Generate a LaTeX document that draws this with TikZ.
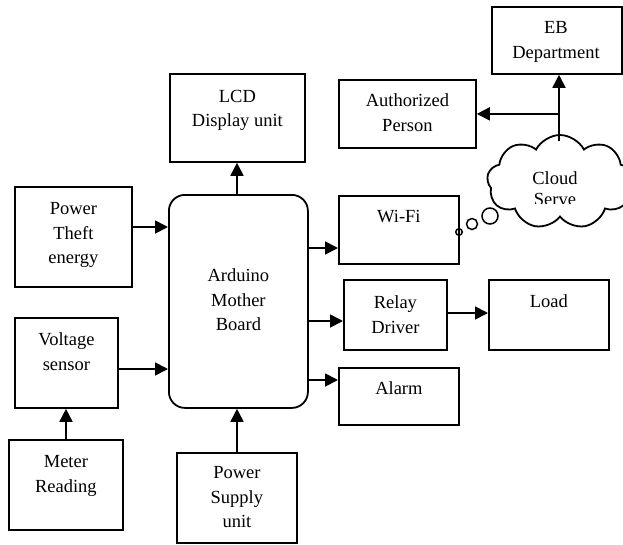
\documentclass[tikz,border=0pt]{standalone}
\usepackage{fontspec}
\setmainfont{Liberation Serif}
\usetikzlibrary{arrows.meta,shapes.symbols}
\begin{document}
\begin{tikzpicture}[x=1pt,y=-1pt,
  box/.style={draw,line width=1.8pt,inner sep=0pt,anchor=north west},
  txt/.style={align=center,anchor=north,inner sep=0pt,font=\fontsize{18.5}{24.5}\selectfont},
  arr/.style={line width=1.8pt,-{Triangle[length=13pt,width=13pt]}},
  bub/.style={draw,circle,line width=1.5pt,inner sep=0pt}]
\useasboundingbox (0,0) rectangle (623,544);
% boxes
\node[box,minimum width=130,minimum height=67] (eb) at (491,6) {};
\node[box,minimum width=137,minimum height=68] (auth) at (338,79) {};
\node[box,minimum width=135,minimum height=88] (lcd) at (169,73) {};
\node[box,minimum width=120,minimum height=68] (wifi) at (338,195) {};
\node[box,minimum width=117,minimum height=100] (pt) at (14,186) {};
\node[box,rounded corners=16pt,minimum width=139,minimum height=213] (ard) at (168,194) {};
\node[box,minimum width=103,minimum height=70] (relay) at (343,279) {};
\node[box,minimum width=120,minimum height=70] (load) at (488,279) {};
\node[box,minimum width=120,minimum height=57] (alarm) at (338,367) {};
\node[box,minimum width=103,minimum height=90] (volt) at (14,317) {};
\node[box,minimum width=114,minimum height=90] (meter) at (8,439) {};
\node[box,minimum width=120,minimum height=90] (ps) at (176,452) {};
% cloud
\node[cloud,draw,line width=1.8pt,cloud puffs=9,cloud puff arc=125,aspect=1.55,
  minimum width=146,minimum height=94,inner sep=0pt] (cloud) at (560,182) {};
\node[bub,minimum size=6.5] (b1) at (459,232) {};
\node[bub,minimum size=11] (b2) at (472,224) {};
\node[bub,minimum size=16] (b3) at (490,216) {};
% texts
\node[txt] (teb) at (556,34-12.4) {EB\\Department};
\node[txt] (tauth) at (auth.center |- 0,106-12.4) {Authorized\\Person};
\node[txt] (tlcd) at (lcd.center |- 0,102-12.4) {LCD\\Display unit};
\node[txt] (tcloud) at (555,184-12.4) {Cloud};
\begin{scope}
\clip (480,190) rectangle (623,203.5);
\node[txt] (tserve) at (555,205-12.4) {Serve};
\end{scope}
\node[txt] (twifi) at (wifi.center |- 0,222-12.4) {Wi-Fi};
\node[txt] (tpt) at (pt.center |- 0,215-12.4) {Power\\Theft\\energy};
\node[txt] (tard) at (ard.center |- 0,281-12.4) {Arduino\\Mother\\Board};
\node[txt] (trelay) at (relay.center |- 0,308-12.4) {Relay\\Driver};
\node[txt] (tload) at (load.center |- 0,307-12.4) {Load};
\node[txt] (talarm) at (alarm.center |- 0,394-12.4) {Alarm};
\node[txt] (tvolt) at (volt.center |- 0,345-12.4) {Voltage\\sensor};
\node[txt] (tmeter) at (meter.center |- 0,468-12.4) {Meter\\Reading};
\node[txt] (tps) at (ps.center |- 0,479-12.4) {Power\\Supply\\unit};
% connectors
\coordinate (ctop) at (559,141);
\draw[arr] (ctop) -- (ctop |- eb.south);
\draw[arr] (ctop |- auth.east) -- (auth.east);
\draw[arr] (ard.north -| 237,0) -- (lcd.south -| 237,0);
\draw[arr] (pt.east |- 0,227) -- (ard.west |- 0,227);
\draw[arr] (volt.east |- 0,369) -- (ard.west |- 0,369);
\draw[arr] (meter.north -| 66,0) -- (volt.south -| 66,0);
\draw[arr] (ps.north -| 237,0) -- (ard.south -| 237,0);
\draw[arr] (ard.east |- 0,248) -- (wifi.west |- 0,248);
\draw[arr] (ard.east |- 0,321) -- (relay.west |- 0,321);
\draw[arr] (ard.east |- 0,380) -- (alarm.west |- 0,380);
\draw[arr] (relay.east |- 0,313) -- (load.west |- 0,313);
\end{tikzpicture}
\end{document}
